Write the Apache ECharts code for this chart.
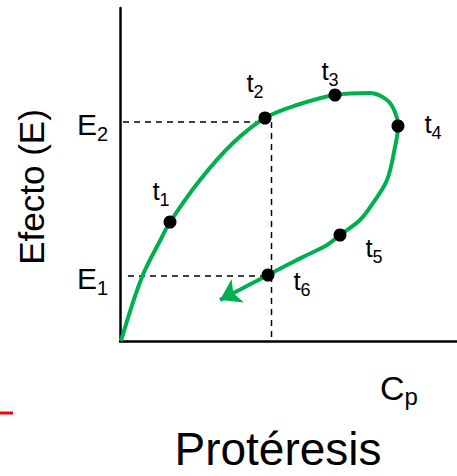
<!DOCTYPE html>
<html>
<head>
<meta charset="utf-8">
<style>
  html, body { margin: 0; padding: 0; background: #fff; }
  #chart { width: 457px; height: 476px; }
</style>
<script src="https://cdn.jsdelivr.net/npm/echarts@6/dist/echarts.min.js"></script>
</head>
<body>
<div id="chart"></div>
<script>
// path of the effect (E) against plasma concentration (Cp), in plot units
const curve = [
  [1, 0], [22, 64], [42, 104], [50, 119], [80, 161], [113, 198], [145, 223],
  [177, 236], [215, 246], [250, 248], [267, 241], [275, 229], [278, 215],
  [275, 194], [267, 161], [253, 138], [240, 121], [220, 106], [207, 96],
  [187, 86], [173, 79], [148, 66]
]
// last stretch that ends in the arrow head
const arrowPath = [[148, 66], [100, 41]]
// time points t1..t6
const timePoints = [[50, 119], [145, 223], [215, 246], [278, 215], [220, 106], [148, 66]]
const timeNames = ['1', '2', '3', '4', '5', '6']
// effect levels and the concentration they share
const e1 = 65
const e2 = 219
const cpShared = 151.5
const yTickNames = { 65: '1', 219: '2' }

// label offsets from each dot, in px
const labelOffsets = [[-9, -31], [-10, -35], [-5, -24], [35, -2], [34, 13], [34, 6]]

const green = '#00b050'
const font = '"Liberation Sans", Arial, sans-serif'

const chart = echarts.init(document.getElementById('chart'), null, { renderer: 'svg' })

const dashStyle = { color: '#000', width: 1.5, type: [6, 5] }

chart.setOption({
  animation: false,
  textStyle: { fontFamily: font },
  grid: { left: 120, right: 0, top: 8, bottom: 135, containLabel: false, outerBoundsMode: 'none' },
  xAxis: {
    type: 'value',
    min: 0,
    max: 337,
    axisLine: { lineStyle: { color: '#000', width: 2.5 } },
    axisTick: { show: false },
    axisLabel: { show: false },
    splitLine: { show: false }
  },
  yAxis: {
    type: 'value',
    min: 0,
    max: 333,
    axisLine: { show: true, lineStyle: { color: '#000', width: 2.5 } },
    axisTick: { show: false },
    splitLine: { show: false },
    axisLabel: {
      show: true,
      customValues: [e1, e2],
      margin: 12,
      padding: [5, 0, 0, 0],
      formatter: v => '{b|E}{s|' + yTickNames[v] + '}',
      rich: {
        b: { fontSize: 30, lineHeight: 30, color: '#000', fontFamily: font },
        s: { fontSize: 20, padding: [19, 0, 0, 0], verticalAlign: 'bottom', color: '#000', fontFamily: font }
      }
    }
  },
  graphic: [
    {
      type: 'text',
      x: 31,
      y: 187,
      rotation: Math.PI / 2,
      style: {
        text: 'Efecto (E)',
        font: '35px ' + font,
        fill: '#000',
        align: 'center',
        verticalAlign: 'middle'
      }
    },
    {
      type: 'text',
      x: 380,
      y: 388,
      style: {
        text: '{c|C}{s|p}',
        align: 'left',
        verticalAlign: 'middle',
        rich: {
          c: { fontSize: 34, lineHeight: 34, fill: '#000', fontFamily: font },
          s: { fontSize: 24, padding: [16, 0, 0, 0], verticalAlign: 'bottom', fill: '#000', fontFamily: font }
        }
      }
    },
    {
      type: 'text',
      x: 278,
      y: 449,
      style: {
        text: 'Protéresis',
        font: '46px ' + font,
        fill: '#000',
        align: 'center',
        verticalAlign: 'middle'
      }
    },
    {
      type: 'line',
      shape: { x1: 0, y1: 413, x2: 13, y2: 413 },
      style: { stroke: '#ff0000', lineWidth: 3 }
    }
  ],
  series: [
    {
      type: 'line',
      data: [[3, e2], [145, e2]],
      symbol: 'none',
      lineStyle: dashStyle,
      z: 1
    },
    {
      type: 'line',
      data: [[cpShared, e2], [cpShared, 0]],
      symbol: 'none',
      lineStyle: dashStyle,
      z: 1
    },
    {
      type: 'line',
      data: [[8, e1], [143, e1]],
      symbol: 'none',
      lineStyle: dashStyle,
      z: 1
    },
    {
      type: 'line',
      data: curve,
      smooth: 0.35,
      symbol: 'none',
      lineStyle: { color: green, width: 4 },
      z: 2
    },
    {
      type: 'lines',
      coordinateSystem: 'cartesian2d',
      data: [{ coords: arrowPath }],
      symbol: ['none', 'arrow'],
      symbolSize: 20,
      lineStyle: { color: green, width: 4, opacity: 1 },
      z: 2
    },
    {
      type: 'scatter',
      symbolSize: 13,
      itemStyle: { color: '#000', opacity: 1 },
      data: timePoints.map((p, i) => ({
        value: p,
        n: timeNames[i],
        label: { offset: labelOffsets[i] }
      })),
      label: {
        show: true,
        position: 'inside',
        formatter: p => '{t|t}{s|' + p.data.n + '}',
        rich: {
          t: { fontSize: 26, lineHeight: 26, color: '#000', fontFamily: font },
          s: { fontSize: 18, padding: [18, 0, 0, 0], verticalAlign: 'bottom', color: '#000', fontFamily: font }
        }
      },
      z: 3
    }
  ]
})
</script>
</body>
</html>
